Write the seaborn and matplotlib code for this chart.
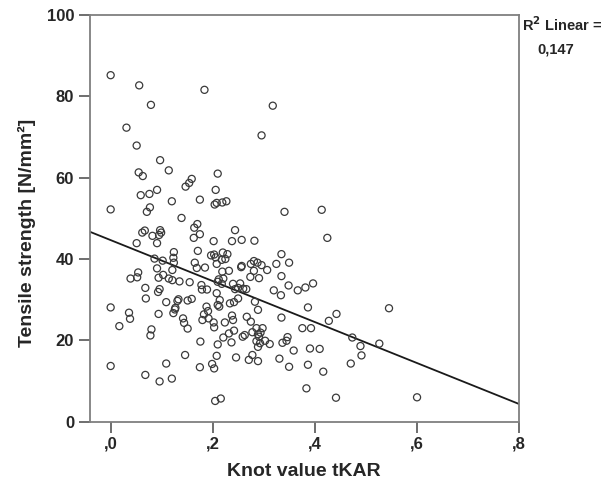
import matplotlib
matplotlib.use("Agg")
import matplotlib.pyplot as plt
import seaborn as sns
import numpy as np
import pandas as pd

# Pixel-read positions converted to data values (knot value tKAR, tensile strength)
px = [110.7,139.3,204.7,151,126.7,136.7,160.3,169,138.7,142.7,217.7,192,189,185.5,157,
      273,261.7,216,141,149.3,110.7,171.7,199.7,214.5,217,146.7,150,181.7,197.3,194.3,
      142.3,145,160,161,159,152.3,200,194,157.3,136.7,213.7,197.7,174,211,214.3,216,
      173.3,173.7,154.7,162.7,195,196.7,217,157,172.3,205,138.3,137.3,130.7,163.3,158.7,
      168.7,172.3,179.3,189.7,201.3,207,202,217.7,145.3,159.7,158,216.7,146,166.3,178.3,
      177.3,187.7,191.7,110.7,206.7,217.7,175.3,129.3,130,158.7,173.3,175,183.3,184.3,
      187.7,119.3,151.7,150.7,208.3,204,202.7,208.7,213.7,214.3,200.7,217.7,185,216.7,
      110.7,166.3,200,212,214,145.3,159.7,172,215,221,222.3,226.7,284.7,322,235.3,232.3,
      241.7,254.7,327.3,222.7,227.3,225.3,222,281.3,276.3,289,254,251,257.7,261.7,267.3,
      242,241,222.3,229,254,250.3,259.3,281.3,219,223.3,221.7,233.3,240,243.3,238.3,235,
      246.3,288.7,274,281,298,305.7,313,220,219.3,230,234,238.3,255,258.3,308.3,225,
      232.3,233.3,234,246.7,250.7,281.7,329,336.7,256.7,262.7,260.7,252.7,258.3,259.3,
      256.7,265,270,258.3,260,242.7,245,229,223.3,231.7,302.7,311,287.7,286.7,282.7,294,
      310,320,236,249,258,252.7,279.3,289,308,323.3,306.3,336,389.3,352.3,360.7,361.7,
      379.3,350.7,417.3]
py = [75,85.3,90,104.7,127.7,145.7,160,170.3,172.3,176,173.7,179,183,186.5,190,
      105.7,135.3,190,195.3,194,209.3,201.3,199.7,204.7,202.7,211.7,207.3,218,224,227.7,
      232.7,230.7,230,232.7,235,236,234.3,237.7,243,243,241.3,250.7,252.3,255.3,254.7,257.3,
      258,262.7,258.7,260.7,262.7,268,264,268.3,270,267.7,272.3,277.3,278.7,275,277.7,
      278.7,280,281.3,282.3,285,289.7,289.7,281.7,288,289.3,292,293.3,298.3,302,299.3,
      301,300.7,298.7,307.3,306.7,305,307.7,312.7,319,314,313.3,309.3,318.3,322.7,
      328.7,326.3,329.3,335.3,311,314.3,320,318.3,322.3,327.3,341.7,344.3,355,356,
      366,363.7,367.3,364,368.3,375,381.3,378.7,401,398.5,202.3,201.3,211.7,209.7,230,241,
      240,240.7,237.7,252.7,254,259,260,254.3,264,262.7,261,263.7,262.7,265.3,270,
      266,267.3,271.7,270.7,271,277,278,276,279.3,278.7,284,284,283.3,288.7,288,289.3,
      289,285.3,290.3,295.3,290.3,287.3,283.3,300,306.7,303.3,302.3,298.3,301.7,310,307.3,322.3,
      315.7,320,330.7,316.7,321.7,317.7,320.7,314,328.3,328.3,332.7,332.3,334.3,336.7,
      341,340.7,344,346.7,343.3,336.7,335,333.3,337.7,342.3,328.3,328.3,337.3,340.7,342.7,350.7,
      348.3,349,357.3,360,361.3,355,358.7,366.7,364.7,371.7,388.3,397.7,308.3,337.7,346,355.3,
      343.7,363.7,397.3]

knot_value = [round((p - 111.2) / 510.0, 3) for p in px]
tensile = [round((421.7 - q) / 4.067, 1) for q in py]

fit_intercept = 44.6
fit_slope = -50.3
r2_text = "0,147"

x_ticks = [0.0, 0.2, 0.4, 0.6, 0.8]
x_tick_labels = [",0", ",2", ",4", ",6", ",8"]
y_ticks = [0, 20, 40, 60, 80, 100]
y_tick_labels = ["0", "20", "40", "60", "80", "100"]

df = pd.DataFrame({"knot": knot_value, "strength": tensile})

sns.set_style("white")
plt.rcParams["font.family"] = ["Liberation Sans", "DejaVu Sans"]

fig = plt.figure(figsize=(6.12, 4.88), dpi=100)
ax = fig.add_axes([89.5 / 612, 1 - 421.7 / 488, (519 - 89.5) / 612, (421.7 - 15) / 488])

sns.scatterplot(data=df, x="knot", y="strength", ax=ax, marker="o", s=26,
                facecolor="none", edgecolor="#3a3a3a", linewidth=0.9, zorder=3)
ax.axline((0, fit_intercept), slope=fit_slope, color="#1a1a1a", lw=1.3, zorder=2)

ax.set_xlim(-0.0425, 0.8)
ax.set_ylim(0, 100)
ax.set_xticks(x_ticks)
ax.set_xticklabels(x_tick_labels)
ax.set_yticks(y_ticks)
ax.set_yticklabels(y_tick_labels)
ax.tick_params(axis="both", direction="out", length=8, width=1.2, color="#555555",
               labelsize=12, pad=3, bottom=True, left=True)
for lab in ax.get_xticklabels() + ax.get_yticklabels():
    lab.set_fontweight("bold")

for sp in ax.spines.values():
    sp.set_color("#7f7f7f")
    sp.set_linewidth(1.3)

ax.set_xlabel("Knot value tKAR", fontsize=14, fontweight="bold", labelpad=8)
ax.set_ylabel("Tensile strength [N/mm²]", fontsize=14, fontweight="bold", labelpad=6)
ax.yaxis.set_label_coords(-0.125, 0.465)

fig.text(522 / 612, 1 - 31 / 488, "R$^{\\mathbf{2}}$ Linear =", fontsize=10.5, fontweight="bold",
         ha="left", va="baseline")
fig.text(537 / 612, 1 - 53 / 488, r2_text, fontsize=10.5, fontweight="bold",
         ha="left", va="baseline")

fig.savefig("out.png", dpi=100, facecolor="white")
